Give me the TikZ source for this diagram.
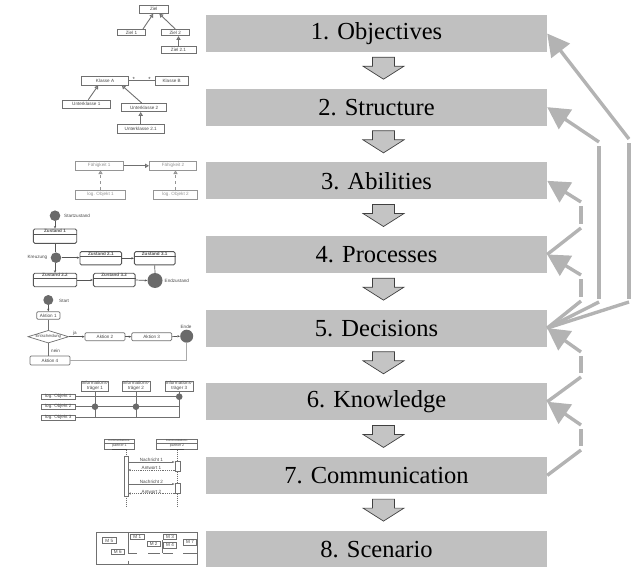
\documentclass[tikz,border=0pt]{standalone}
\usepackage{fontspec}
\setmainfont{Liberation Serif}
\newfontfamily\minifont{Liberation Sans}
\usetikzlibrary{arrows.meta,shapes.geometric,calc}
\definecolor{boxgray}{HTML}{C0C0C0}
\definecolor{conngray}{HTML}{B3B3B3}
\definecolor{hollowfill}{HTML}{C4C4C4}
\definecolor{mline}{HTML}{707070}
\definecolor{mdark}{HTML}{555555}
\definecolor{mtext}{HTML}{484848}
\definecolor{mlight}{HTML}{959595}
\definecolor{mdot}{HTML}{6A6A6A}
\begin{document}
\begin{tikzpicture}[x=1pt,y=-1pt,
  stage/.style={fill=boxgray, minimum width=341pt, minimum height=37pt, inner sep=0pt,
    font=\fontsize{24.5}{28}\selectfont},
  hollow/.style={draw=black!75, fill=hollowfill, line width=0.7pt, line join=miter},
  conn/.style={draw=conngray, line width=3.4pt},
  tip/.style={-{Triangle[length=22pt,width=23pt,fill=conngray]}},
  mbox/.style={draw=mline, fill=white, line width=0.7pt, inner sep=0pt,
    font=\minifont\fontsize{4.6}{5.2}\selectfont, text=mtext},
  lbox/.style={mbox, draw=mlight, text=mlight},
  zst/.style={mbox, draw=mdark, rounded corners=1.5pt, line width=0.9pt},
  ztx/.style={inner sep=0.5pt, font=\minifont\bfseries\fontsize{4.6}{5.2}\selectfont, text=mdark},
  mtx/.style={inner sep=0.5pt, font=\minifont\fontsize{4.6}{5.2}\selectfont, text=mtext},
  gen/.style={draw=mline, line width=0.9pt, -{Triangle[open,length=3.8pt,width=4.2pt,fill=white]}},
  sarr/.style={draw=mdark, line width=0.7pt, -{Stealth[length=2.6pt,width=2.2pt]}},
  mln/.style={draw=mline, line width=0.7pt},
  dot/.style={circle, fill=mdot, inner sep=0pt}]
\useasboundingbox (0,0) rectangle (638,567);

% ---------------- main stages ----------------
\node[stage] (b1) at (376.5,33.5) {1. Objectives};
\node[stage] (b2) at (376.5,107.15) {2. Structure};
\node[stage] (b3) at (376.5,180.8) {3. Abilities};
\node[stage] (b4) at (376.5,254.45) {4. Processes};
\node[stage] (b5) at (376.5,328.1) {5. Decisions};
\node[stage] (b6) at (376.5,401.75) {6. Knowledge};
\node[stage] (b7) at (376.5,475.4) {7. Communication};
\node[stage] (b8) at (376.5,549.05) {8. Scenario};

\foreach \i in {1,...,7}{
  \begin{scope}[shift={(b\i.south)}]
    \draw[hollow] (-4,5) -- (18,5) -- (18,14) -- (27.5,14) -- (7,27) -- (-13.5,14) -- (-4,14) -- cycle;
  \end{scope}}

% ---------------- feedback connectors ----------------
\coordinate (r1a) at (629,302); \coordinate (r1b) at (629,299);
\coordinate (r1c) at (629,143); \coordinate (r1d) at (629,139);
\coordinate (r2a) at (599,302); \coordinate (r2b) at (599,299);
\coordinate (r2c) at (599,146); \coordinate (r2d) at (599,142);
\coordinate (r3a) at (581,301); \coordinate (r3b) at (581,297);
\coordinate (r3c) at (581,279); \coordinate (r3d) at (581,275);
\coordinate (r4a) at (581,228); \coordinate (r4b) at (581,224);
\coordinate (r4c) at (581,206); \coordinate (r4d) at (581,202);
\coordinate (r5a) at (581,377); \coordinate (r5b) at (581,373);
\coordinate (r5c) at (581,356); \coordinate (r5d) at (581,352);
\coordinate (r6a) at (581,450); \coordinate (r6b) at (581,446);
\coordinate (r6c) at (581,429); \coordinate (r6d) at (581,425);

\draw[conn] (b5.east) -- (r1a);  \draw[conn] (r1b) -- (r1c);  \draw[conn,tip] (r1d) -- (b1.east);
\draw[conn] (b5.east) -- (r2a);  \draw[conn] (r2b) -- (r2c);  \draw[conn,tip] (r2d) -- (b2.east);
\draw[conn] (b5.east) -- (r3a);  \draw[conn] (r3b) -- (r3c);  \draw[conn,tip] (r3d) -- (b4.east);
\draw[conn] (b4.east) -- (r4a);  \draw[conn] (r4b) -- (r4c);  \draw[conn,tip] (r4d) -- (b3.east);
\draw[conn] (b6.east) -- (r5a);  \draw[conn] (r5b) -- (r5c);  \draw[conn,tip] (r5d) -- (b5.east);
\draw[conn] (b7.east) -- (r6a);  \draw[conn] (r6b) -- (r6c);  \draw[conn,tip] (r6d) -- (b6.east);

% ---------------- 1: goals ----------------
\node[mbox, minimum width=29pt, minimum height=8.3pt] (z0) at (153.8,9.2) {Ziel};
\node[mbox, minimum width=28.4pt, minimum height=6.4pt] (z1) at (131.5,32.5) {Ziel 1};
\node[mbox, minimum width=28.3pt, minimum height=6.4pt] (z2) at (175.2,32.5) {Ziel 2};
\node[mbox, minimum width=35pt, minimum height=6.6pt] (z21) at (178.5,50) {Ziel 2.1};
\draw[gen] ([xshift=11.5pt]z1.north) -- ([xshift=-0.5pt]z0.south);
\draw[gen] (z2.north) -- ([xshift=5.5pt]z0.south);
\draw[gen] (z21.north) -- (z21.north |- z2.south);

% ---------------- 2: classes ----------------
\node[mbox, minimum width=46.6pt, minimum height=8.3pt] (kA) at (105,80.8) {Klasse A};
\node[mbox, minimum width=33.3pt, minimum height=8.3pt] (kB) at (171.7,80.8) {Klasse B};
\draw[mln] (kA.east) -- node[mtx, font=\minifont\fontsize{6}{6}\selectfont, pos=0.2, above=-1.5pt] (sa) {*} node[mtx, font=\minifont\fontsize{6}{6}\selectfont, pos=0.8, above=-1.5pt] (sb) {*} (kB.west);
\node[mbox, minimum width=47.3pt, minimum height=8.3pt] (u1) at (86.3,104.2) {Unterklasse 1};
\node[mbox, minimum width=45pt, minimum height=8.3pt] (u2) at (144.2,107.5) {Unterklasse 2};
\node[mbox, minimum width=46.7pt, minimum height=9pt] (u21) at (140.7,128.8) {Unterklasse 2.1};
\draw[gen] ([xshift=2pt]u1.north) -- ([xshift=-6.7pt]kA.south);
\draw[gen] ([xshift=-2.5pt]u2.north) -- ([xshift=16.7pt]kA.south);
\draw[gen] (u21.north) -- (u21.north |- u2.south);

% ---------------- 3: abilities ----------------
\node[lbox, minimum width=48.3pt, minimum height=8.3pt] (f1) at (99.2,165.8) {Fähigkeit 1};
\node[lbox, minimum width=47.4pt, minimum height=8.3pt] (f2) at (173,165.8) {Fähigkeit 2};
\node[lbox, minimum width=50pt, minimum height=9.3pt] (o1) at (100.5,194.7) {log. Objekt 1};
\node[lbox, minimum width=44pt, minimum height=9.3pt] (o2) at (175.5,194.7) {log. Objekt 2};
\draw[gen, draw=mline] (f1.east) -- (f2.west);
\draw[gen, draw=mlight, dashed] (o1.north) -- (o1.north |- f1.south);
\draw[gen, draw=mlight, dashed] (o2.north) -- (o2.north |- f2.south);

% ---------------- 4: states ----------------
\node[dot, minimum size=10.6pt] (s0) at (55,215.7) {};
\node[mtx, anchor=west] (s0l) at (63.5,215.7) {Startzustand};
\node[zst, minimum width=43.4pt, minimum height=14.3pt] (zs1) at (55,236.2) {};
\node[ztx, anchor=north] (zs1t) at (zs1.north) {Zustand 1};
\draw[draw=mdark, line width=0.6pt] ([yshift=-6pt]zs1.north west) -- ([yshift=-6pt]zs1.north east);
\node[dot, minimum size=10.6pt] (kr) at (56,257.7) {};
\node[mtx, anchor=east] (krl) at (48,257.7) {Kreuzung};
\node[zst, minimum width=41.7pt, minimum height=13.3pt] (zs21) at (100.8,258.3) {};
\node[ztx, anchor=north] (zs21t) at (zs21.north) {Zustand 2.1};
\draw[draw=mdark, line width=0.6pt] ([yshift=-5.5pt]zs21.north west) -- ([yshift=-5.5pt]zs21.north east);
\node[zst, minimum width=40.7pt, minimum height=13.3pt] (zs31) at (154.7,258.3) {};
\node[ztx, anchor=north] (zs31t) at (zs31.north) {Zustand 3.1};
\draw[draw=mdark, line width=0.6pt] ([yshift=-5.5pt]zs31.north west) -- ([yshift=-5.5pt]zs31.north east);
\node[zst, minimum width=43.4pt, minimum height=13.4pt] (zs22) at (55,280) {};
\node[ztx, anchor=north] (zs22t) at (zs22.north) {Zustand 2.2};
\draw[draw=mdark, line width=0.6pt] ([yshift=-5.5pt]zs22.north west) -- ([yshift=-5.5pt]zs22.north east);
\node[zst, minimum width=41.7pt, minimum height=13.4pt] (zs32) at (114.2,280) {};
\node[ztx, anchor=north] (zs32t) at (zs32.north) {Zustand 3.2};
\draw[draw=mdark, line width=0.6pt] ([yshift=-5.5pt]zs32.north west) -- ([yshift=-5.5pt]zs32.north east);
\node[dot, minimum size=15pt] (zend) at (155,280.5) {};
\node[mtx, anchor=west] (zendl) at (164,281) {Endzustand};
\draw[sarr] (s0) -- (zs1.north);
\draw[mln, draw=mdark] (zs1.south) -- (zs1.south |- kr.north);
\draw[sarr] (zs1.south |- kr.south) -- (zs22.north);
\draw[sarr] (kr.east) -- (kr.east -| zs21.west);
\draw[sarr] (zs21.east) -- (zs21.east -| zs31.west);
\draw[sarr] (zs22.east) -- (zs22.east -| zs32.west);
\draw[sarr] (zs32.east) -- (zend.west);
\draw[mln, draw=mdark] (zs31.south) -- (zend.north);

% ---------------- 5: activities ----------------
\node[dot, minimum size=10pt] (st) at (48.3,300) {};
\node[mtx, anchor=west] (stl) at (58.5,300.5) {Start};
\node[mbox, rounded corners=1.2pt, minimum width=23.3pt, minimum height=7.6pt] (a1) at (48.3,315.5) {Aktion 1};
\node[diamond, draw=mline, fill=white, line width=0.7pt, inner sep=0pt, aspect=3.2,
  minimum width=40.7pt, minimum height=12.7pt, font=\minifont\fontsize{4.2}{5}\selectfont, text=mtext] (dia) at (48.3,336.7) {Entscheidung};
\node[mtx] (jal) at (75,333) {ja};
\node[mtx, anchor=west] (neinl) at (50.5,350.7) {nein};
\node[mbox, rounded corners=1.2pt, minimum width=40pt, minimum height=8pt] (a2) at (105,336.7) {Aktion 2};
\node[mbox, rounded corners=1.2pt, minimum width=40pt, minimum height=8pt] (a3) at (151.7,336.7) {Aktion 3};
\node[dot, minimum size=13pt] (aen) at (186.7,336.2) {};
\node[mtx, anchor=south] (aenl) at (186,329.2) {Ende};
\node[mbox, rounded corners=1.2pt, minimum width=40pt, minimum height=9pt] (a4) at (50,360.5) {Aktion 4};
\draw[sarr] (st) -- (a1.north);
\draw[mln] (a1.south) -- (dia.north);
\draw[sarr] (dia.east) -- (a2.west);
\draw[sarr] (a2.east) -- (a3.west);
\draw[sarr] (a3.east) -- (aen.west);
\draw[mln] (dia.south) -- (dia.south |- a4.north);
\draw[draw=mlight!80, line width=0.8pt] (a4.east) -- (a4.east -| aen.south) -- (aen.south);

% ---------------- 6: knowledge ----------------
\begin{scope}[every node/.append style={font=\minifont\fontsize{3.6}{3.9}\selectfont, align=center}]
\node[mbox, minimum width=26.7pt, minimum height=9pt] (i1) at (95,386.2) {Informations-\\träger 1};
\node[mbox, minimum width=28.3pt, minimum height=9pt] (i2) at (136,386.2) {Informations-\\träger 2};
\node[mbox, minimum width=28.3pt, minimum height=9pt] (i3) at (179.2,386.2) {Informations-\\träger 3};
\node[mbox, minimum width=33.3pt, minimum height=5.3pt] (lo1) at (58.3,396.7) {log. Objekt 1};
\node[mbox, minimum width=33.3pt, minimum height=5.3pt] (lo2) at (58.3,406.7) {log. Objekt 2};
\node[mbox, minimum width=33.3pt, minimum height=5.3pt] (lo3) at (58.3,417.5) {log. Objekt 3};
\end{scope}
\draw[mln] (lo1.east) -- (lo1.east -| i3.south);
\draw[mln] (lo2.east) -- (lo2.east -| i3.south);
\draw[mln] (lo3.east) -- (lo3.east -| i3.south);
\draw[mln] (i1.south) -- (i1.south |- lo3.east);
\draw[mln] (i2.south) -- (i2.south |- lo3.east);
\draw[mln] (i3.south) -- (i3.south |- lo3.east);
\node[dot, minimum size=6.6pt] (d1) at (i1.south |- lo2.east) {};
\node[dot, minimum size=6.6pt] (d2) at (i2.south |- lo2.east) {};
\node[dot, minimum size=6.6pt] (d3) at (i3.south |- lo1.east) {};

% ---------------- 7: communication ----------------
\node[mbox, minimum width=30pt, minimum height=10pt] (p1) at (119.5,444.2) {};
\node[mbox, minimum width=40.6pt, minimum height=10pt] (p2) at (177,444.2) {};
\node[inner sep=0pt, font=\minifont\fontsize{2.8}{3}\selectfont, text=mtext] (p1a) at ([yshift=-2pt]p1.north) {Kommunikations-};
\node[inner sep=0pt, font=\minifont\fontsize{2.8}{3}\selectfont, text=mtext] (p2a) at ([yshift=-2pt]p2.north) {Kommunikations-};
\draw[mln, line width=0.4pt] ([yshift=-4pt]p1.north west) -- ([yshift=-4pt]p1.north east);
\draw[mln, line width=0.4pt] ([yshift=-4pt]p2.north west) -- ([yshift=-4pt]p2.north east);
\node[inner sep=0pt, font=\minifont\fontsize{3.6}{3.9}\selectfont, text=mtext] (p1b) at ([yshift=2.8pt]p1.south) {\underline{partner 1}};
\node[inner sep=0pt, font=\minifont\fontsize{3.6}{3.9}\selectfont, text=mtext] (p2b) at ([yshift=2.8pt]p2.south) {\underline{partner 2}};
\coordinate (ll1) at (126.2,507);
\coordinate (ll2) at (177.4,507);
\draw[mln, dashed, dash pattern=on 1pt off 1pt] (p1.south -| ll1) -- (ll1);
\draw[mln, dashed, dash pattern=on 1pt off 1pt] (p2.south -| ll2) -- (ll2);
\node[mbox, minimum width=3.4pt, minimum height=40pt] (ac1) at (126.2,476.7) {};
\node[mbox, minimum width=5pt, minimum height=10pt] (ac2) at (177.4,466) {};
\node[mbox, minimum width=5pt, minimum height=10pt] (ac3) at (177.4,488.3) {};
\coordinate (m1) at (150,462);
\coordinate (m2) at (150,470);
\coordinate (m3) at (150,484);
\coordinate (m4) at (150,493.5);
\draw[sarr, draw=mline] (ac1.east |- m1) -- node[mtx, above=-0.4pt] (m1l) {Nachricht 1} (ac2.west |- m1);
\draw[sarr, draw=mline, dashed, dash pattern=on 1.2pt off 1pt] (ac2.west |- m2) -- node[mtx, above=-0.4pt] (m2l) {Antwort 1} (ac1.east |- m2);
\draw[sarr, draw=mline] (ac1.east |- m3) -- node[mtx, above=-0.4pt] (m3l) {Nachricht 2} (ac3.west |- m3);
\draw[sarr, draw=mline, dashed, dash pattern=on 1.2pt off 1pt] (ac3.west |- m4) -- node[mtx, above=-0.4pt] (m4l) {Antwort 2} (ac1.east |- m4);

% ---------------- 8: scenario (floor plan) ----------------
\draw[mln, line width=0.8pt] (96,532.3) rectangle (197.3,564.3);
\draw[mln, line width=0.8pt] (128.3,532.3) -- (128.3,553.3);
\draw[mln, line width=0.8pt] (128.3,560.5) -- (128.3,564.3);
\draw[mln, line width=0.8pt] (162.7,540) -- (162.7,553.3);
\draw[mln, line width=0.8pt] (128.3,553.3) -- (137.3,553.3);
\draw[mln, line width=0.8pt] (148.3,553.3) -- (160,553.3);
\draw[mln, line width=0.8pt] (162.7,553.3) -- (173.3,553.3);
\draw[mln, line width=0.8pt] (183.3,553.3) -- (197.3,553.3);
\begin{scope}[every node/.append style={font=\minifont\fontsize{3.6}{3.9}\selectfont}]
\node[mbox, minimum width=13.3pt, minimum height=5.6pt] (mm5) at (109.3,540.5) {M 5};
\node[mbox, minimum width=12.3pt, minimum height=5.3pt] (mm6) at (117.8,551.7) {M 6};
\node[mbox, minimum width=13.3pt, minimum height=5.3pt] (mm1) at (137.3,537) {M 1};
\node[mbox, minimum width=12.7pt, minimum height=5.6pt] (mm2) at (153.7,543.8) {M 2};
\node[mbox, minimum width=13.3pt, minimum height=5.3pt] (mm3) at (170,537) {M 3};
\node[mbox, minimum width=13.3pt, minimum height=6pt] (mm4) at (170,545.3) {M 4};
\node[mbox, minimum width=13.3pt, minimum height=6pt] (mm7) at (190,542) {M 7};
\end{scope}
\end{tikzpicture}
\end{document}
